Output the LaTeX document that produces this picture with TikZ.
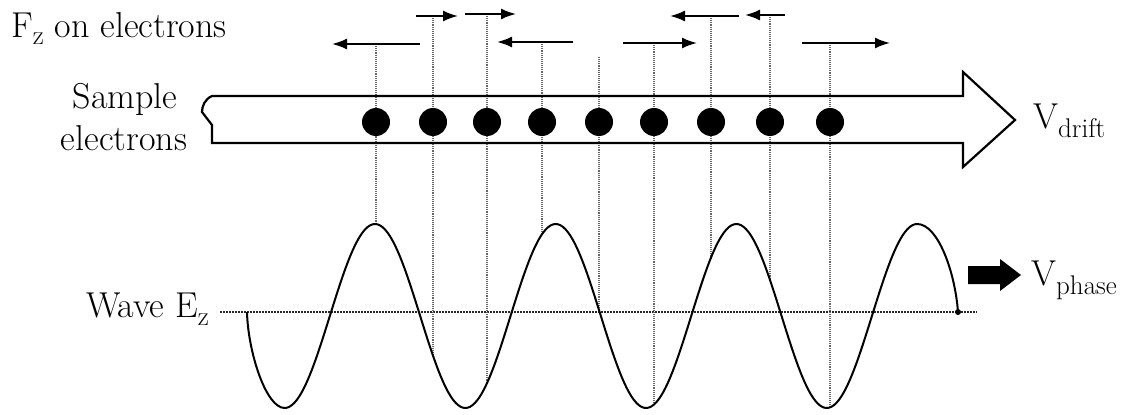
\documentclass[tikz,border=0pt]{standalone}
\usepackage{fontspec}
\usetikzlibrary{arrows.meta}
\newcommand{\lowsub}[2][9pt]{\raisebox{-#1}{\fontsize{27}{27}\selectfont #2}}
\begin{document}
\begin{tikzpicture}[x=1pt,y=-1pt,
  lbl/.style={inner sep=0pt,font=\fontsize{36}{40}\selectfont},
  electron/.style={circle,fill=black,inner sep=0pt,minimum size=28pt},
  force/.style={line width=2pt,-{Latex[length=15pt,width=11pt]}},
  dotline/.style={densely dotted,line width=1.1pt,black!60},
  axisline/.style={densely dotted,line width=2pt,black!85},
  ribbon/.style={line width=2.2pt,line join=miter},
  wave/.style={line width=2pt},
  phasearrow/.style={fill=black},
  endmark/.style={circle,fill=black,inner sep=0pt,minimum size=6pt}]
\useasboundingbox (0,0) rectangle (1128,415);
\def\wy#1{316-92*cos(1.99225*(#1-375))}
% labels
\node[lbl,anchor=base west] (fz) at (11,37) {F\lowsub[8pt]{z} on electrons};
\node[lbl,anchor=base] (sample) at (125,108) {Sample};
\node[lbl,anchor=base] (electrons) at (124,150) {electrons};
\node[lbl,anchor=base west] (wave) at (86,317) {Wave E\lowsub[8pt]{z}};
\node[lbl,anchor=base west] (vdrift) at (1033,128) {V\lowsub{drift}};
\node[lbl,anchor=base west] (vphase) at (1031,285) {V\lowsub{phase}};
% dotted axis
\coordinate (axL) at (220,312);
\coordinate (axR) at (977,312);
\draw[axisline] (axL) -- (axR);
% dotted verticals
\foreach \x/\t in {376/44,433/16,487/14,542/42,599/57,654/43,711/16,770/15,830/43}{
  \draw[dotline] (\x,\t) -- (\x,{\wy{\x}});
}
% ribbon arrow
\draw[ribbon] (963,96) -- (212,96)
  .. controls (205,99) and (202,106) .. (202,112) -- (212,125) -- (212,143)
  -- (963,143) -- (963,167) -- (1015,120) -- (963,72) -- cycle;
% electrons
\foreach \x [count=\i] in {376,433,487,542,599,654,711,770,830}{
  \node[electron] (e\i) at (\x,122) {};
}
% forces
\coordinate (f1a) at (420,44); \coordinate (f1b) at (332,44);
\coordinate (f2a) at (416,16); \coordinate (f2b) at (458,16);
\coordinate (f3a) at (465,14); \coordinate (f3b) at (516,14);
\coordinate (f4a) at (573,42); \coordinate (f4b) at (497,42);
\coordinate (f5a) at (623,43); \coordinate (f5b) at (697,43);
\coordinate (f6a) at (739,16); \coordinate (f6b) at (670,16);
\coordinate (f7a) at (785,15); \coordinate (f7b) at (745,15);
\coordinate (f8a) at (802,43); \coordinate (f8b) at (890,43);
\foreach \i in {1,...,8}{\draw[force] (f\i a) -- (f\i b);}
% wave
\draw[wave,line join=round] (247,312) .. controls (248,352) and (266,408) .. (284.6,408)
  -- plot[domain=284.6:917.1,samples=260,smooth] (\x,{\wy{\x}})
  .. controls (938,224) and (955,272) .. (958,312);
\node[endmark] (wend) at (958,312) {};
% phase arrow
\fill[phasearrow] (968,266) -- (1000,266) -- (1000,259) -- (1021,275)
  -- (1000,291) -- (1000,284) -- (968,284) -- cycle;
\end{tikzpicture}
\end{document}
